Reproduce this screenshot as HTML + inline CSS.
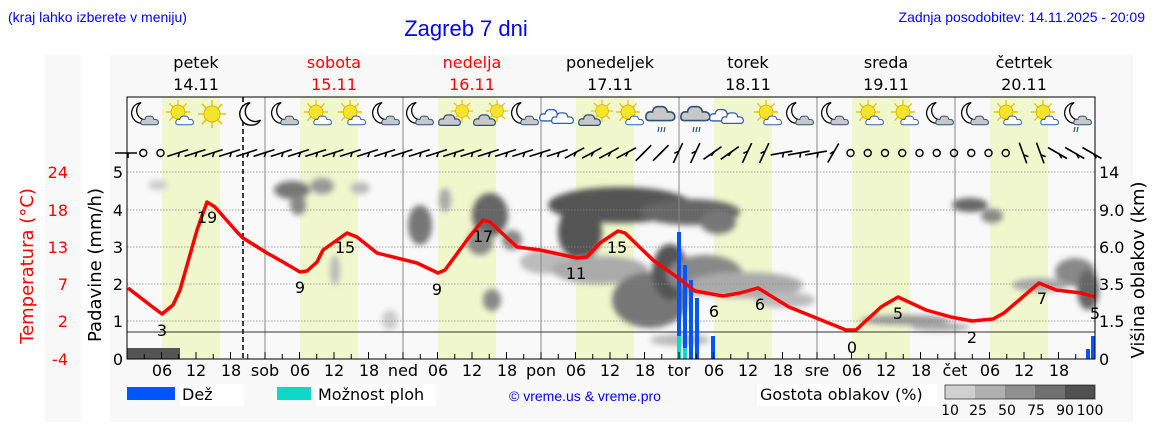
<!DOCTYPE html>
<html><head><meta charset="utf-8"><style>
body{margin:0;width:1152px;height:443px;background:#fff;overflow:hidden;font-family:"Liberation Sans","DejaVu Sans",sans-serif}
</style></head><body>
<svg width="1152" height="443" xmlns="http://www.w3.org/2000/svg" font-family="DejaVu Sans, Liberation Sans, sans-serif">
<defs>
<filter id="bl" x="-50%" y="-50%" width="200%" height="200%"><feGaussianBlur stdDeviation="3"/></filter>
<symbol id="moon" viewBox="0 0 30 30" overflow="visible"><path d="M14 2 A13 13 0 1 0 26 22 A10 10 0 0 1 14 2Z" fill="#fff" stroke="#000" stroke-width="1.6"/></symbol>
<symbol id="sun" viewBox="0 0 30 30" overflow="visible"><g stroke="#e8c800" stroke-width="1.6"><line x1="15" y1="1" x2="15" y2="29"/><line x1="1" y1="15" x2="29" y2="15"/><line x1="5" y1="5" x2="25" y2="25"/><line x1="25" y1="5" x2="5" y2="25"/></g><circle cx="15" cy="15" r="8" fill="#f5e52a" stroke="#e0b000"/></symbol>
<symbol id="cl" viewBox="0 0 30 20" overflow="visible"><path d="M4 18 Q0 18 1 13 Q2 9 7 10 Q8 4 14 5 Q20 4 21 10 Q27 9 28 14 Q28 18 24 18Z" fill="#fff" stroke="#2e5fa8" stroke-width="1.5"/></symbol>
<symbol id="clg" viewBox="0 0 30 20" overflow="visible"><path d="M4 18 Q0 18 1 13 Q2 9 7 10 Q8 4 14 5 Q20 4 21 10 Q27 9 28 14 Q28 18 24 18Z" fill="#c8c8c8" stroke="#2e4f78" stroke-width="1.5"/></symbol>
</defs>
<rect x="45" y="55" width="36" height="367" fill="#f8f8f8"/>
<rect x="110" y="55" width="1023" height="367" fill="#f8f8f8"/>
<text x="8" y="22" fill="#0000ff" font-size="14" font-family="Liberation Sans">(kraj lahko izberete v meniju)</text>
<text x="466" y="36" fill="#0000ff" font-size="22" text-anchor="middle" font-family="Liberation Sans">Zagreb 7 dni</text>
<text x="1145" y="22" fill="#0000ff" font-size="14" text-anchor="end" font-family="Liberation Sans">Zadnja posodobitev: 14.11.2025 - 20:09</text>
<g font-size="16" text-anchor="middle">
<text x="196" y="68">petek</text><text x="196" y="90">14.11</text>
<text x="334" y="68" fill="#f00">sobota</text><text x="334" y="90" fill="#f00">15.11</text>
<text x="472" y="68" fill="#f00">nedelja</text><text x="472" y="90" fill="#f00">16.11</text>
<text x="610" y="68">ponedeljek</text><text x="610" y="90">17.11</text>
<text x="748" y="68">torek</text><text x="748" y="90">18.11</text>
<text x="886" y="68">sreda</text><text x="886" y="90">19.11</text>
<text x="1024" y="68">četrtek</text><text x="1024" y="90">20.11</text>
</g>
<rect x="127" y="97" width="968" height="262" fill="#f9f9f9"/>
<g fill="#f0f7cc">
<rect x="162" y="97" width="58" height="262"/><rect x="300" y="97" width="58" height="262"/><rect x="438" y="97" width="58" height="262"/><rect x="576" y="97" width="58" height="262"/><rect x="714" y="97" width="58" height="262"/><rect x="852" y="97" width="58" height="262"/><rect x="990" y="97" width="58" height="262"/>
</g>
<g filter="url(#bl)">
<ellipse cx="158" cy="185" rx="10" ry="5" fill="#ccc"/>
<ellipse cx="292" cy="190" rx="18" ry="9" fill="#777"/><ellipse cx="298" cy="205" rx="8" ry="10" fill="#888"/><ellipse cx="322" cy="186" rx="12" ry="8" fill="#999"/><ellipse cx="360" cy="188" rx="10" ry="6" fill="#bbb"/>
<ellipse cx="335" cy="270" rx="5" ry="15" fill="#bbb"/><ellipse cx="390" cy="320" rx="8" ry="10" fill="#ccc"/>
<ellipse cx="420" cy="225" rx="12" ry="20" fill="#777"/><ellipse cx="445" cy="200" rx="6" ry="12" fill="#aaa"/>
<ellipse cx="490" cy="215" rx="18" ry="22" fill="#666"/><ellipse cx="480" cy="242" rx="13" ry="13" fill="#888"/><ellipse cx="512" cy="240" rx="10" ry="10" fill="#888"/>
<ellipse cx="620" cy="205" rx="72" ry="18" fill="#555"/><ellipse cx="580" cy="232" rx="22" ry="28" fill="#555"/><ellipse cx="545" cy="262" rx="25" ry="12" fill="#bbb"/><ellipse cx="600" cy="270" rx="48" ry="14" fill="#aaa"/><ellipse cx="492" cy="300" rx="9" ry="11" fill="#888"/><ellipse cx="650" cy="300" rx="38" ry="28" fill="#777"/>
<ellipse cx="690" cy="212" rx="50" ry="13" fill="#666"/><ellipse cx="718" cy="222" rx="18" ry="12" fill="#777"/>
<ellipse cx="670" cy="272" rx="18" ry="28" fill="#555"/><ellipse cx="705" cy="275" rx="38" ry="20" fill="#888"/><ellipse cx="745" cy="285" rx="58" ry="13" fill="#aaa"/><ellipse cx="785" cy="300" rx="30" ry="8" fill="#bbb"/>
<ellipse cx="680" cy="340" rx="30" ry="6" fill="#bbb"/>
<ellipse cx="905" cy="320" rx="45" ry="5" fill="#999"/><ellipse cx="940" cy="327" rx="30" ry="4" fill="#aaa"/>
<ellipse cx="970" cy="205" rx="18" ry="7" fill="#666"/><ellipse cx="992" cy="216" rx="11" ry="7" fill="#888"/>
<ellipse cx="1075" cy="272" rx="20" ry="14" fill="#888"/><ellipse cx="1040" cy="285" rx="28" ry="7" fill="#aaa"/><ellipse cx="1088" cy="290" rx="11" ry="20" fill="#666"/>
</g>
<rect x="127" y="348" width="53" height="11" fill="#555"/>
<g stroke="#888" stroke-width="0.8" stroke-dasharray="1.5,1.5">
<line x1="127" y1="172" x2="1095" y2="172"/><line x1="127" y1="210" x2="1095" y2="210"/><line x1="127" y1="247" x2="1095" y2="247"/><line x1="127" y1="284" x2="1095" y2="284"/><line x1="127" y1="321" x2="1095" y2="321"/>
</g>
<g stroke="#888" stroke-width="1">
<line x1="265" y1="97" x2="265" y2="359"/><line x1="403" y1="97" x2="403" y2="359"/><line x1="541" y1="97" x2="541" y2="359"/><line x1="679" y1="97" x2="679" y2="359"/><line x1="817" y1="97" x2="817" y2="359"/><line x1="955" y1="97" x2="955" y2="359"/>
</g>
<line x1="243" y1="97" x2="243" y2="359" stroke="#000" stroke-width="1.5" stroke-dasharray="5,3"/>
<line x1="127" y1="332" x2="1095" y2="332" stroke="#333" stroke-width="1"/>
<g>
<rect x="677" y="232" width="4" height="127" fill="#0055ff"/><rect x="683" y="265" width="4" height="94" fill="#0055ff"/><rect x="689" y="280" width="4" height="79" fill="#0055ff"/><rect x="695" y="298" width="4" height="61" fill="#0055ff"/><rect x="711" y="336" width="4" height="23" fill="#0055ff"/><rect x="1086" y="349" width="4" height="10" fill="#0055ff"/><rect x="1091" y="336" width="4" height="23" fill="#0055ff"/>
<rect x="677" y="336" width="4" height="23" fill="#10d8c8"/><rect x="683" y="348" width="4" height="11" fill="#10d8c8"/>
</g>
<polyline fill="none" stroke="#f00" stroke-width="3.5" stroke-linejoin="round" points="128,288 150,305 162,314 173,305 180,290 197,230 207,202 215,207 237,232 243,238 267,253 283,262 300,272 307,271 317,262 323,250 347,233 357,237 377,253 417,263 438,273 445,270 467,240 483,220 490,222 517,247 540,250 577,258 587,257 600,243 618,231 625,233 653,260 681,280 695,291 723,296 740,293 758,288 789,307 846,330 856,330 881,307 898,297 926,310 951,317 972,321 993,319 1004,313 1039,283 1056,290 1081,293 1095,297"/>
<g font-size="16" text-anchor="middle">
<text x="162" y="336">3</text><text x="207" y="223">19</text><text x="300" y="293">9</text><text x="345" y="253">15</text><text x="437" y="295">9</text><text x="483" y="242">17</text><text x="576" y="279">11</text><text x="617" y="253">15</text><text x="714" y="317">6</text><text x="760" y="310">6</text><text x="852" y="353">0</text><text x="898" y="319">5</text><text x="972" y="343">2</text><text x="1042" y="304">7</text><text x="1095" y="319">5</text>
</g>
<rect x="127" y="97" width="968" height="262" fill="none" stroke="#000" stroke-width="1"/>
<g id="icons"></g>
<g id="barbs" stroke="#000" stroke-width="1.6" fill="none"></g>
<g font-size="16" text-anchor="end"><text x="123" y="178">5</text><text x="123" y="216">4</text><text x="123" y="253">3</text><text x="123" y="290">2</text><text x="123" y="327">1</text><text x="123" y="365">0</text></g>
<g font-size="16" fill="#f00" text-anchor="end"><text x="68" y="178">24</text><text x="68" y="216">18</text><text x="68" y="253">13</text><text x="68" y="290">7</text><text x="68" y="327">2</text><text x="68" y="365">-4</text></g>
<g font-size="16"><text x="1099" y="178">14</text><text x="1099" y="216">9.0</text><text x="1099" y="253">6.0</text><text x="1099" y="290">3.5</text><text x="1099" y="327">1.5</text><text x="1099" y="365">0</text></g>
<text transform="translate(33,266) rotate(-90)" font-size="18" fill="#f00" text-anchor="middle">Temperatura (°C)</text>
<text transform="translate(101,265) rotate(-90)" font-size="18" text-anchor="middle">Padavine (mm/h)</text>
<text transform="translate(1144,270) rotate(-90)" font-size="18" text-anchor="middle">Višina oblakov (km)</text>
<g id="ticks" stroke="#000" stroke-width="1"></g>
<g font-size="16" text-anchor="middle">
<text x="162" y="376">06</text><text x="196" y="376">12</text><text x="231" y="376">18</text><text x="265" y="376">sob</text>
<text x="300" y="376">06</text><text x="334" y="376">12</text><text x="369" y="376">18</text><text x="403" y="376">ned</text>
<text x="438" y="376">06</text><text x="472" y="376">12</text><text x="507" y="376">18</text><text x="541" y="376">pon</text>
<text x="576" y="376">06</text><text x="610" y="376">12</text><text x="645" y="376">18</text><text x="679" y="376">tor</text>
<text x="714" y="376">06</text><text x="748" y="376">12</text><text x="783" y="376">18</text><text x="817" y="376">sre</text>
<text x="852" y="376">06</text><text x="886" y="376">12</text><text x="921" y="376">18</text><text x="955" y="376">čet</text>
<text x="990" y="376">06</text><text x="1024" y="376">12</text><text x="1059" y="376">18</text>
</g>
<rect x="127" y="387" width="48" height="13" fill="#0055ff"/>
<rect x="180" y="384" width="64" height="22" fill="#fff"/><text x="182" y="400" font-size="16">Dež</text>
<rect x="277" y="387" width="34" height="13" fill="#10d8c8"/>
<rect x="316" y="384" width="120" height="22" fill="#fff"/><text x="318" y="400" font-size="16">Možnost ploh</text>
<text x="585" y="401" font-size="14" fill="#0000ff" text-anchor="middle" font-family="Liberation Sans">© vreme.us &amp; vreme.pro</text>
<rect x="757" y="384" width="180" height="22" fill="#fff"/><text x="760" y="400" font-size="16">Gostota oblakov (%)</text>
<rect x="945" y="385" width="30" height="14" fill="#d0d0d0"/><rect x="975" y="385" width="30" height="14" fill="#b0b0b0"/><rect x="1005" y="385" width="30" height="14" fill="#909090"/><rect x="1035" y="385" width="30" height="14" fill="#707070"/><rect x="1065" y="385" width="30" height="14" fill="#505050"/>
<rect x="945" y="385" width="150" height="14" fill="none" stroke="#000" stroke-width="0.6"/>
<g font-size="14" text-anchor="middle"><text x="950" y="415">10</text><text x="978" y="415">25</text><text x="1007" y="415">50</text><text x="1036" y="415">75</text><text x="1065" y="415">90</text><text x="1090" y="415">100</text></g>
</svg>
<script>
var ns="http://www.w3.org/2000/svg";
function el(p,t,a){var e=document.createElementNS(ns,t);for(var k in a)e.setAttribute(k,a[k]);p.appendChild(e);return e;}
var ic=document.getElementById('icons');
var types="mc sc s m mc sc sc mc mc cs cs mc cc cs sc r r cc sc mc mc sc sc mc mc sc sc mr".split(' ');
var xs=[145,180,212,250,285,318,352,386,420,455,490,525,560,595,630,662,697,730,768,800,835,870,905,940,975,1008,1045,1078];
types.forEach(function(t,i){var x=xs[i]-15,y=99;
 function u(id,dx,dy,w,h){el(ic,'use',{href:'#'+id,x:x+dx,y:y+dy,width:w,height:h});}
 if(t=='m'){u('moon',3,0,26,30);}
 if(t=='mc'||t=='mr'){u('moon',0,0,24,28);u('clg',10,14,20,13);}
 if(t=='s'){u('sun',0,0,30,30);}
 if(t=='sc'){u('sun',0,0,26,26);u('cl',10,14,20,13);}
 if(t=='cs'){u('sun',10,0,24,24);u('clg',-2,12,24,16);}
 if(t=='cc'){u('cl',-6,6,26,18);u('cl',6,10,24,16);}
 if(t=='r'){u('clg',-2,2,32,22);}
 if(t=='r'||t=='mr'){for(var j=0;j<(t=='r'?3:2);j++)el(ic,'line',{x1:x+12+j*3,y1:y+28,x2:x+11+j*3,y2:y+33,stroke:'#2e4f78','stroke-width':1.2});}
});
var b=document.getElementById('barbs');
// angle per 3h index i (0..56); null = calm circle
var ang=[];
for(var i=0;i<=56;i++){var a;
 if(i==1||i==2||(i>=42&&i<=51)) a=null;
 else if(i==0) a=0;
 else if(i<26) a=-18;
 else if(i<30) a=-28;
 else if(i<32) a=-45;
 else if(i<34) a=-65;
 else if(i<36) a=-35;
 else if(i<40) a=-65;
 else if(i<42) a=-75;
 else if(i<54) a=70;
 else a=30;
 if(i>=40&&i<=41) a=-75;
 ang.push(a);}
// tor 06-12 flat segment
for(var i=38;i<=40;i++) ang[i]=-10; ang[41]=-60;
ang.forEach(function(a,i){var x=126+i*17.25,y=153;
 if(a===null){el(b,'circle',{cx:x,cy:y,r:3.5,'stroke-width':1.4});return;}
 var r=a*Math.PI/180,L=11;
 var x1=x-L*Math.cos(r),y1=y-L*Math.sin(r),x2=x+L*Math.cos(r),y2=y+L*Math.sin(r);
 el(b,'line',{x1:x1,y1:y1,x2:x2,y2:y2});
 var px=x+2*Math.cos(r),py=y+2*Math.sin(r);
 el(b,'line',{x1:px,y1:py,x2:px-5*Math.sin(r)*-1,y2:py+5*Math.cos(r)});
});
var tk=document.getElementById('ticks');
for(var i=1;i<56;i++){var x=127+i*17.25;el(tk,'line',{x1:x,y1:359,x2:x,y2:i%2?354:352});}
</script>
</body></html>
